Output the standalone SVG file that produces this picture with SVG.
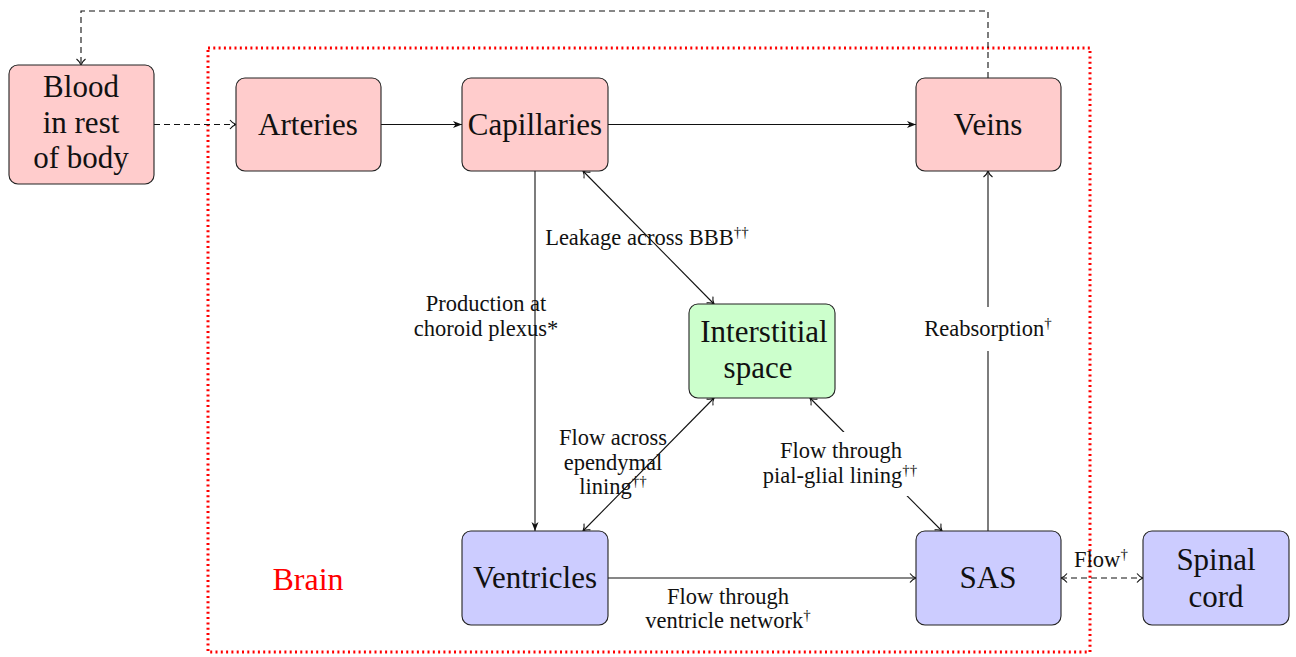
<svg xmlns="http://www.w3.org/2000/svg" width="1296" height="657" viewBox="0 0 1296 657">
<style>
.node rect{stroke:#222;stroke-width:1.1}
.pink{fill:#ffcccc}.green{fill:#ccffcc}.blue{fill:#ccccff}
.nt{font-family:"Liberation Serif",serif;font-size:31px;fill:#111;text-anchor:middle}
.lt{font-family:"Liberation Serif",serif;font-size:22.5px;fill:#111;text-anchor:middle}
.sup{font-size:15px}
.ln{fill:none;stroke:#111;stroke-width:1.1}
.dash{stroke-dasharray:6 4}
</style>
<defs>
<marker id="open" viewBox="-8 -6 10 12" refX="0" refY="0" markerWidth="10" markerHeight="12" markerUnits="userSpaceOnUse" orient="auto-start-reverse">
<path d="M-6,-4.5 C-4,-1.8 -1.5,-0.5 0,0 C-1.5,0.5 -4,1.8 -6,4.5" fill="none" stroke="#111" stroke-width="1.1"/>
</marker>
<marker id="solid" viewBox="-10 -5 11 10" refX="0" refY="0" markerWidth="11" markerHeight="10" markerUnits="userSpaceOnUse" orient="auto">
<path d="M0,0 L-9,-3.5 L-6.5,0 L-9,3.5 Z" fill="#111"/>
</marker>
</defs>

<g id="brain">
<rect x="208" y="48" width="882" height="604" fill="none" stroke="#ff0000" stroke-width="3" stroke-dasharray="2 3.3"/>
<text x="308" y="590" font-family="Liberation Serif, serif" font-size="32" fill="#ff0000" text-anchor="middle">Brain</text>
</g>

<g id="connectors">
<path class="ln dash" d="M988,78 V11 H81 V65" marker-end="url(#open)"/>
<line class="ln dash" x1="154" y1="124.5" x2="236" y2="124.5" marker-end="url(#open)"/>
<line class="ln" x1="381" y1="124.5" x2="462" y2="124.5" marker-end="url(#solid)"/>
<line class="ln" x1="608" y1="124.5" x2="916" y2="124.5" marker-end="url(#solid)"/>
<line class="ln" x1="535" y1="171" x2="535" y2="531" marker-end="url(#solid)"/>
<line class="ln" x1="583" y1="171" x2="714" y2="304" marker-start="url(#open)" marker-end="url(#open)"/>
<line class="ln" x1="583" y1="531" x2="714" y2="398" marker-start="url(#open)" marker-end="url(#open)"/>
<line class="ln" x1="942" y1="531" x2="810" y2="398" marker-start="url(#open)" marker-end="url(#open)"/>
<line class="ln" x1="988" y1="531" x2="988" y2="171" marker-end="url(#open)"/>
<line class="ln" x1="608" y1="578" x2="916" y2="578" marker-end="url(#open)"/>
<line class="ln dash" x1="1061" y1="578" x2="1143" y2="578" marker-start="url(#open)" marker-end="url(#open)"/>
<rect x="752" y="432" width="176" height="64" fill="#fff"/>
<rect x="914" y="307" width="148" height="44" fill="#fff"/>
<text class="lt" x="486" y="311">Production at</text>
<text class="lt" x="486" y="336">choroid plexus*</text>
<text class="lt" x="647" y="245">Leakage across BBB<tspan class="sup" dy="-8">††</tspan></text>
<text class="lt" x="613" y="445">Flow across</text>
<text class="lt" x="613" y="470">ependymal</text>
<text class="lt" x="613" y="494">lining<tspan class="sup" dy="-8">††</tspan></text>
<text class="lt" x="841" y="458">Flow through</text>
<text class="lt" x="840" y="483">pial-glial lining<tspan class="sup" dy="-8">††</tspan></text>
<text class="lt" x="988" y="336">Reabsorption<tspan class="sup" dy="-8">†</tspan></text>
<text class="lt" x="728" y="604">Flow through</text>
<text class="lt" x="728" y="628">ventricle network<tspan class="sup" dy="-8">†</tspan></text>
<text class="lt" x="1101" y="567">Flow<tspan class="sup" dy="-8">†</tspan></text>
</g>

<g id="blood" class="node">
<rect class="pink" x="9" y="65" width="145" height="119" rx="9"/>
<text class="nt" x="81" y="97">Blood</text>
<text class="nt" x="81" y="133">in rest</text>
<text class="nt" x="81" y="168">of body</text>
</g>
<g id="arteries" class="node">
<rect class="pink" x="236" y="78" width="145" height="93" rx="9"/>
<text class="nt" x="308" y="135">Arteries</text>
</g>
<g id="capillaries" class="node">
<rect class="pink" x="462" y="78" width="146" height="93" rx="9"/>
<text class="nt" x="535" y="135">Capillaries</text>
</g>
<g id="veins" class="node">
<rect class="pink" x="916" y="78" width="145" height="93" rx="9"/>
<text class="nt" x="988" y="135">Veins</text>
</g>
<g id="interstitial" class="node">
<rect class="green" x="689" y="304" width="146" height="94" rx="9"/>
<text class="nt" x="764" y="342">Interstitial</text>
<text class="nt" x="758" y="378">space</text>
</g>
<g id="ventricles" class="node">
<rect class="blue" x="462" y="531" width="146" height="94" rx="9"/>
<text class="nt" x="535" y="588">Ventricles</text>
</g>
<g id="sas" class="node">
<rect class="blue" x="916" y="531" width="145" height="94" rx="9"/>
<text class="nt" x="988" y="588">SAS</text>
</g>
<g id="spinal" class="node">
<rect class="blue" x="1143" y="531" width="146" height="94" rx="9"/>
<text class="nt" x="1216" y="570">Spinal</text>
<text class="nt" x="1216" y="607">cord</text>
</g>
</svg>
